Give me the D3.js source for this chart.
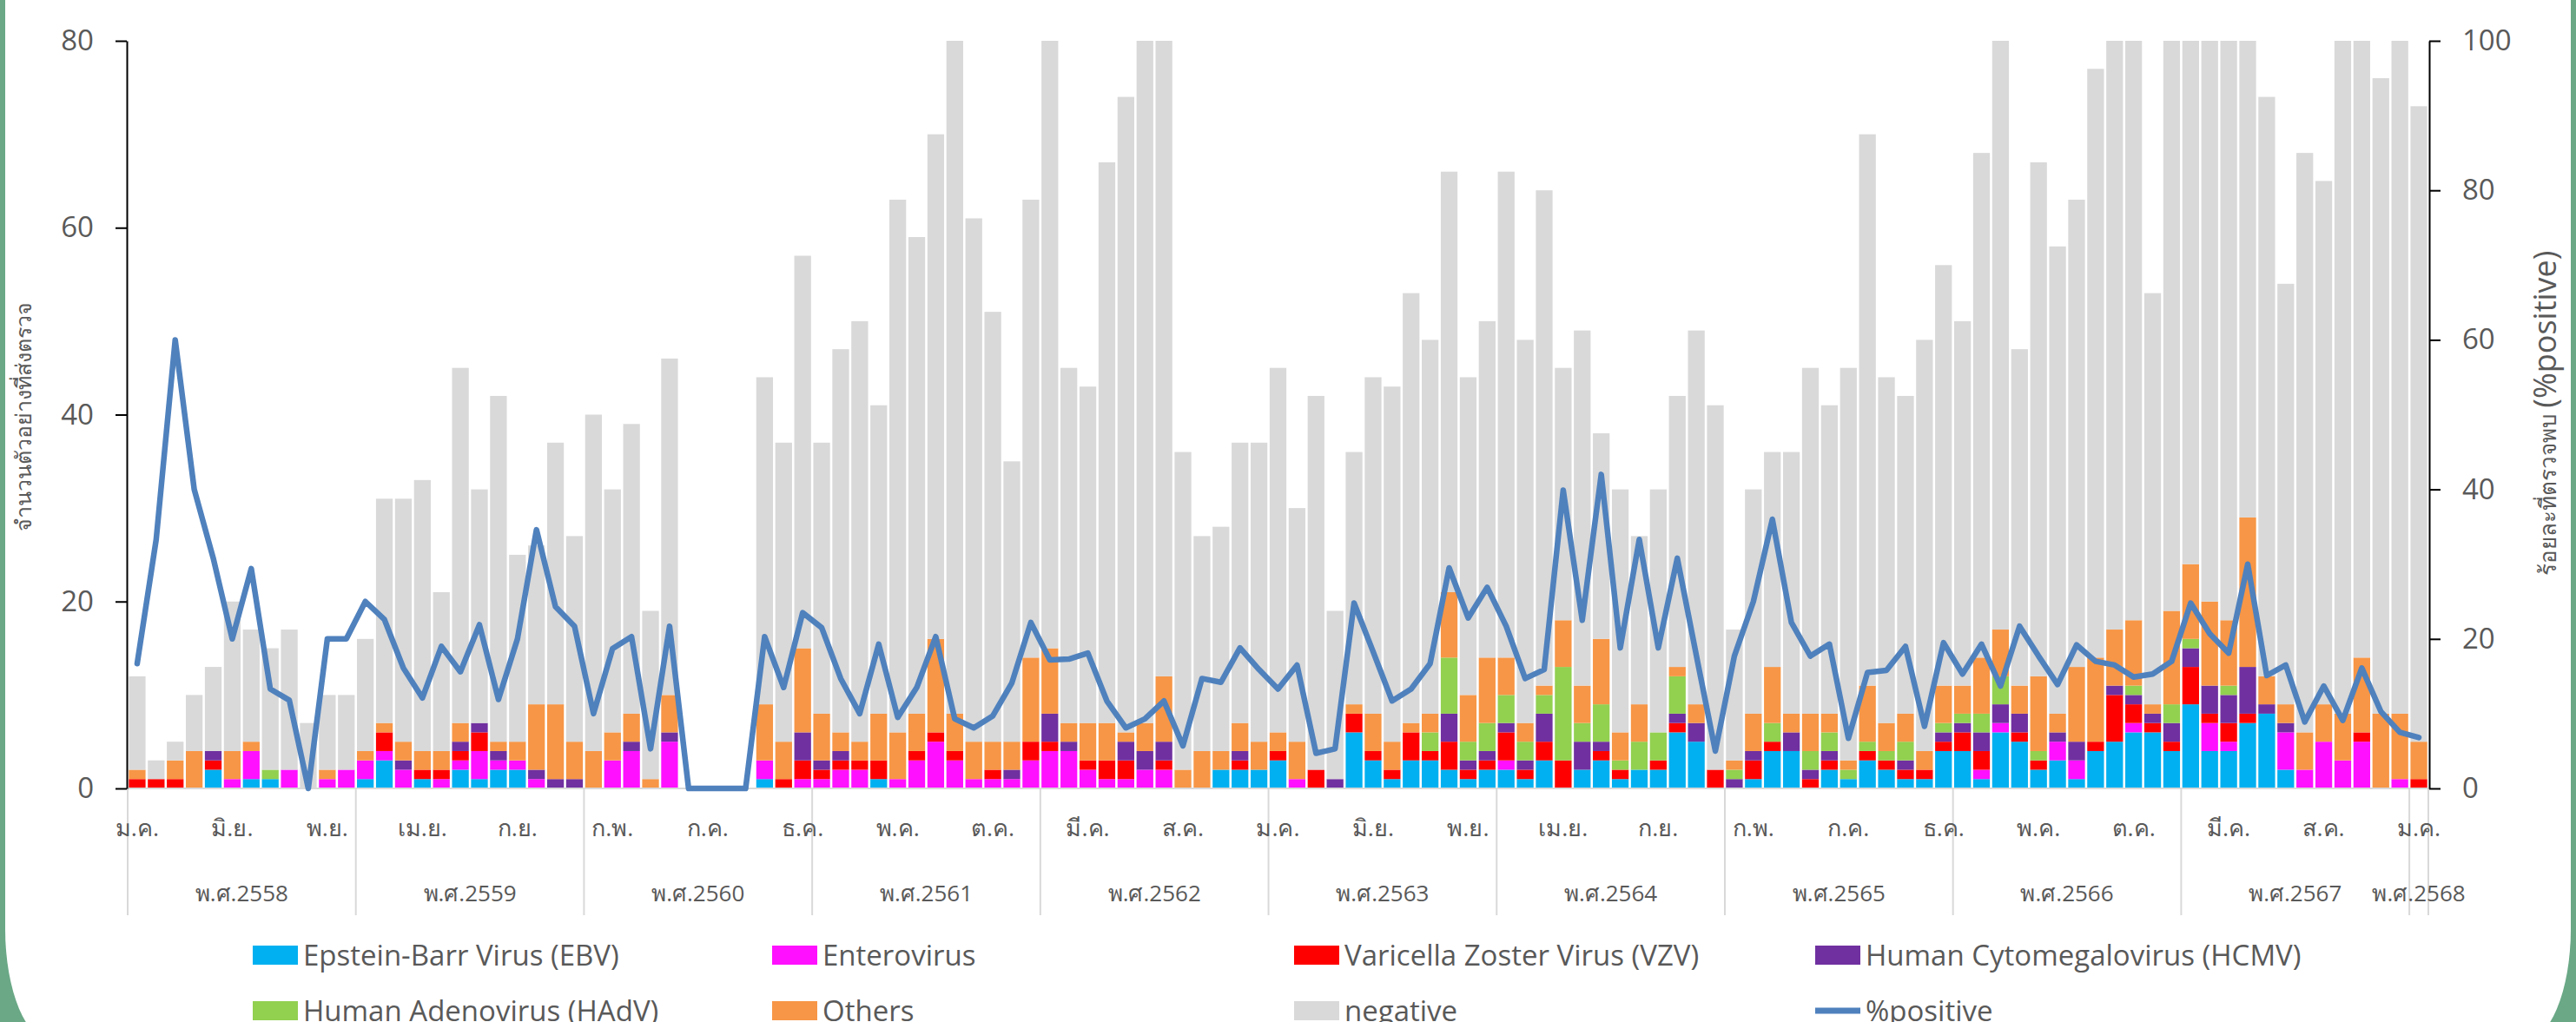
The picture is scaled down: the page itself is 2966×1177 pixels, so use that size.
<!DOCTYPE html>
<html>
<head>
<meta charset="utf-8">
<script src="https://cdn.jsdelivr.net/npm/d3@7"></script>
<style>
  html, body { margin: 0; padding: 0; background: #6aa886; }
  svg { display: block; }
  text { font-family: "Open Sans", "Liberation Sans", Arial, sans-serif; }
</style>
</head>
<body>
<svg id="chart" width="2966" height="1177"></svg>
<script>
// tick labels
const monthNames = ["ม.ค.", "ก.พ.", "มี.ค.", "เม.ย.", "พ.ค.", "มิ.ย.", "ก.ค.", "ส.ค.", "ก.ย.", "ต.ค.", "พ.ย.", "ธ.ค."];
const yearNames = ["พ.ศ.2558", "พ.ศ.2559", "พ.ศ.2560", "พ.ศ.2561", "พ.ศ.2562", "พ.ศ.2563",
  "พ.ศ.2564", "พ.ศ.2565", "พ.ศ.2566", "พ.ศ.2567", "พ.ศ.2568"];
const leftTicks = [0, 20, 40, 60, 80];
const rightTicks = [0, 20, 40, 60, 80, 100];

// monthly counts, ม.ค. 2558 .. ม.ค. 2568
const ebv = [
  0,0,0,0,2,0,1,1,0,0,0,0,
  1,3,0,1,0,2,1,2,2,0,0,0,
  0,0,0,0,0,0,0,0,0,1,0,0,
  0,0,0,1,0,0,0,0,0,0,0,0,
  0,0,0,0,0,0,0,0,0,2,2,2,
  3,0,0,0,6,3,1,3,3,2,1,2,
  2,1,3,0,2,3,1,2,2,6,5,0,
  0,1,4,4,0,2,1,3,2,1,1,4,
  4,1,6,5,2,3,1,4,5,6,6,4,
  9,4,4,7,8,2,0,0,0,0,0,0,
  0];
const entero = [
  0,0,0,0,0,1,3,0,2,0,1,2,
  2,1,2,0,1,1,3,1,1,1,0,0,
  0,3,4,0,5,0,0,0,0,2,0,1,
  1,2,2,0,1,3,5,3,1,1,1,3,
  4,4,2,1,1,2,2,0,0,0,0,0,
  0,1,0,0,0,0,0,0,0,0,0,0,
  1,0,0,0,0,0,0,0,0,0,0,0,
  0,0,0,0,0,0,0,0,0,0,0,0,
  0,1,1,0,0,2,2,0,0,1,0,0,
  0,3,1,0,0,4,2,5,3,5,0,1,
  0];
const vzv = [
  1,1,1,0,1,0,0,0,0,0,0,0,
  0,2,0,1,1,1,2,0,0,0,0,0,
  0,0,0,0,0,0,0,0,0,0,1,2,
  1,1,1,2,0,1,1,1,0,1,0,2,
  1,0,1,2,2,0,1,0,0,0,1,0,
  1,0,2,0,2,1,1,3,1,3,1,1,
  3,1,2,3,0,1,1,0,1,1,0,2,
  0,2,1,0,1,1,0,1,1,1,1,1,
  2,2,0,1,1,0,0,1,5,2,1,1,
  4,1,2,1,0,0,0,0,0,1,0,0,
  1];
const hcmv = [
  0,0,0,0,1,0,0,0,0,0,0,0,
  0,0,1,0,0,1,1,1,0,1,1,1,
  0,0,1,0,1,0,0,0,0,0,0,3,
  1,1,0,0,0,0,0,0,0,0,1,0,
  3,1,0,0,2,2,2,0,0,0,1,0,
  0,0,0,1,0,0,0,0,0,3,1,1,
  1,1,3,0,3,1,0,0,0,1,2,0,
  1,1,0,2,1,1,0,0,0,1,0,1,
  1,2,2,2,0,1,2,0,1,1,1,2,
  2,3,3,5,1,1,0,0,0,0,0,0,
  0];
const hadv = [
  0,0,0,0,0,0,0,1,0,0,0,0,
  0,0,0,0,0,0,0,0,0,0,0,0,
  0,0,0,0,0,0,0,0,0,0,0,0,
  0,0,0,0,0,0,0,0,0,0,0,0,
  0,0,0,0,0,0,0,0,0,0,0,0,
  0,0,0,0,0,0,0,0,2,6,2,3,
  3,2,2,10,2,4,1,3,3,4,0,0,
  1,0,2,0,2,2,1,1,1,2,0,1,
  1,2,3,0,1,0,0,0,0,1,0,2,
  1,0,1,0,0,0,0,0,0,0,0,0,
  0];
const others = [
  1,0,2,4,0,3,1,0,0,0,1,0,
  1,1,2,2,2,2,0,1,2,7,8,4,
  4,3,3,1,4,0,0,0,0,6,4,9,
  5,2,2,5,5,4,10,4,4,3,3,9,
  7,2,4,4,1,3,7,2,4,2,3,3,
  2,4,0,0,1,4,3,1,2,7,5,7,
  4,2,1,5,4,7,3,4,0,1,2,0,
  1,4,6,2,4,2,1,6,3,3,2,4,
  3,6,5,3,8,2,8,9,6,7,1,10,
  8,9,7,16,3,2,4,4,5,8,8,7,
  4];
const negative = [
  10,2,2,6,9,16,12,13,15,7,8,8,
  12,24,26,29,17,38,25,37,20,17,28,22,
  36,26,31,18,36,0,0,0,0,35,32,42,
  29,41,45,33,57,51,54,78,56,46,30,49,
  72,38,36,60,68,75,88,34,23,24,30,32,
  39,25,40,18,27,36,38,46,40,45,34,36,
  52,41,53,27,38,22,26,18,26,29,40,39,
  14,24,23,28,37,33,42,59,37,34,44,45,
  39,54,107,36,55,50,50,63,86,103,44,93,
  73,77,81,68,62,45,62,56,80,73,68,99,
  68];
const pctPositive = [
  16.7,33.3,60,40,30.8,20,29.4,13.3,11.8,0,20,20,
  25,22.6,16.1,12.1,19,15.6,21.9,11.9,20,34.6,24.3,21.7,
  10,18.7,20.3,5.3,21.7,0,0,0,0,20.3,13.5,23.5,
  21.5,14.7,10,19.3,9.5,13.5,20.3,9.3,8.1,9.7,14.1,22.2,
  17.2,17.3,18.1,11.7,8.1,9.3,11.7,5.7,14.7,14.2,18.8,15.9,
  13.3,16.5,4.7,5.3,24.8,18.3,11.7,13.3,16.7,29.5,22.8,26.9,
  21.7,14.7,15.9,39.9,22.5,42,18.8,33.3,18.8,30.8,17.8,5,
  17.7,25,36,22.2,17.7,19.3,6.7,15.5,15.8,19,8.3,19.5,
  15.3,19.3,13.7,21.7,17.7,13.9,19.2,17,16.5,14.9,15.3,17,
  24.8,20.7,18.1,30,15.1,16.5,8.9,13.7,9.1,16.1,10.3,7.5,
  6.8];

const seriesNames = ["Epstein-Barr Virus (EBV)", "Enterovirus", "Varicella Zoster Virus (VZV)",
  "Human Cytomegalovirus (HCMV)", "Human Adenovirus (HAdV)", "Others", "negative"];
const seriesValues = [ebv, entero, vzv, hcmv, hadv, others, negative];
const colors = ["#00b0f0", "#ff10ff", "#ff0000", "#7030a0", "#92d050", "#f79646", "#d9d9d9"];

const W = 2966, H = 1177;
const margin = { top: 47, right: 170, bottom: 269, left: 147 };
const plotBottom = H - margin.bottom;
const plotRight = W - margin.right;

const svg = d3.select("#chart");

// rounded white panel over green background
svg.append("rect").attr("width", W).attr("height", H).attr("fill", "#6aa886");
svg.append("rect")
  .attr("x", 6).attr("y", -300)
  .attr("width", W - 12).attr("height", H + 323)
  .attr("rx", 55).attr("ry", 130)
  .attr("fill", "#ffffff");

const rows = d3.range(ebv.length).map(i => {
  const r = { i: i, month: monthNames[i % 12], year: yearNames[Math.floor(i / 12)], pct: pctPositive[i] };
  seriesNames.forEach((s, k) => r[s] = seriesValues[k][i]);
  return r;
});

const x = d3.scaleBand()
  .domain(rows.map(d => d.i))
  .range([margin.left, plotRight])
  .paddingInner(0.12)
  .paddingOuter(0.06);
const yL = d3.scaleLinear().domain([0, 80]).range([plotBottom, margin.top]);
const yR = d3.scaleLinear().domain([0, 100]).range([plotBottom, margin.top]);
const color = d3.scaleOrdinal().domain(seriesNames).range(colors);

svg.append("clipPath").attr("id", "plotClip")
  .append("rect")
  .attr("x", margin.left).attr("y", margin.top)
  .attr("width", plotRight - margin.left).attr("height", plotBottom - margin.top);

const stacked = d3.stack().keys(seriesNames)(rows);

svg.append("g").attr("clip-path", "url(#plotClip)")
  .selectAll("g")
  .data(stacked)
  .join("g")
  .attr("fill", d => color(d.key))
  .selectAll("rect")
  .data(d => d)
  .join("rect")
  .attr("x", d => x(d.data.i))
  .attr("width", x.bandwidth())
  .attr("y", d => yL(d[1]))
  .attr("height", d => yL(d[0]) - yL(d[1]));

// category axis: baseline, year separators, labels
const step = x.step();
svg.append("line")
  .attr("x1", margin.left).attr("x2", plotRight)
  .attr("y1", plotBottom).attr("y2", plotBottom)
  .attr("stroke", "#d9d9d9").attr("stroke-width", 2);

const bounds = d3.range(0, rows.length, 12).concat([rows.length]);
const sepX = d => d === rows.length ? plotRight : x(d) - x.paddingInner() * step / 2;
svg.append("g").selectAll("line")
  .data(bounds)
  .join("line")
  .attr("x1", sepX).attr("x2", sepX)
  .attr("y1", plotBottom).attr("y2", plotBottom + 146)
  .attr("stroke", "#d9d9d9").attr("stroke-width", 2);

svg.append("g").selectAll("text")
  .data(rows.filter(d => d.i % 5 === 0))
  .join("text")
  .attr("x", d => x(d.i) + x.bandwidth() / 2)
  .attr("y", plotBottom + 55)
  .attr("text-anchor", "middle")
  .attr("font-size", 27)
  .attr("fill", "#595959")
  .text(d => d.month);

const groups = d3.groups(rows, d => d.year);
svg.append("g").selectAll("text")
  .data(groups)
  .join("text")
  .attr("x", g => (x(g[1][0].i) + x(g[1][g[1].length - 1].i) + x.bandwidth()) / 2)
  .attr("y", plotBottom + 130)
  .attr("text-anchor", "middle")
  .attr("font-family", "'Liberation Sans', Arial, sans-serif")
  .attr("font-size", 26)
  .attr("fill", "#595959")
  .text(g => g[0]);

// value axes
const axisL = svg.append("g")
  .attr("transform", `translate(${margin.left - 1},0)`)
  .call(d3.axisLeft(yL).tickValues(leftTicks).tickSize(13).tickPadding(25).tickSizeOuter(0));
const axisR = svg.append("g")
  .attr("transform", `translate(${plotRight + 1},0)`)
  .call(d3.axisRight(yR).tickValues(rightTicks).tickSize(13).tickPadding(25).tickSizeOuter(0));
[axisL, axisR].forEach(a => {
  a.select(".domain").attr("stroke", "#000").attr("stroke-width", 2);
  a.selectAll(".tick line").attr("stroke", "#000").attr("stroke-width", 2);
  a.selectAll(".tick text")
    .attr("font-family", "'Open Sans', 'Liberation Sans', sans-serif")
    .attr("font-size", 33).attr("fill", "#595959");
});

svg.append("text")
  .attr("transform", "translate(36,480) rotate(-90)")
  .attr("text-anchor", "middle")
  .attr("font-size", 25)
  .attr("fill", "#595959")
  .text("จำนวนตัวอย่างที่ส่งตรวจ");

const rTitle = svg.append("text")
  .attr("transform", "translate(2943,476) rotate(-90)")
  .attr("text-anchor", "middle")
  .attr("fill", "#595959");
rTitle.append("tspan").attr("font-size", 26).text("ร้อยละที่ตรวจพบ ");
rTitle.append("tspan").attr("font-size", 36).text("(%positive)");

// %positive line
const line = d3.line()
  .x(d => x(d.i) + x.bandwidth() / 2)
  .y(d => yR(d.pct));
svg.append("path")
  .datum(rows)
  .attr("fill", "none")
  .attr("stroke", "#4f81bd")
  .attr("stroke-width", 6.5)
  .attr("stroke-linejoin", "round")
  .attr("stroke-linecap", "round")
  .attr("d", line);

// legend
const legendItems = seriesNames.map(s => ({ name: s, type: "bar" }))
  .concat([{ name: "%positive", type: "line" }]);
const colX = [291, 889, 1490, 2090];
const rowY = [1100, 1164];
const leg = svg.append("g").selectAll("g")
  .data(legendItems)
  .join("g")
  .attr("transform", (d, k) => `translate(${colX[k % 4]},${rowY[Math.floor(k / 4)]})`);
leg.filter(d => d.type === "bar").append("rect")
  .attr("x", 0).attr("y", -11).attr("width", 52).attr("height", 22)
  .attr("fill", d => color(d.name));
leg.filter(d => d.type === "line").append("line")
  .attr("x1", 0).attr("x2", 52).attr("y1", 0).attr("y2", 0)
  .attr("stroke", "#4f81bd").attr("stroke-width", 7);
leg.append("text")
  .attr("x", 58).attr("y", 12)
  .attr("font-size", 33)
  .attr("fill", "#595959")
  .text(d => d.name);
</script>
</body>
</html>
